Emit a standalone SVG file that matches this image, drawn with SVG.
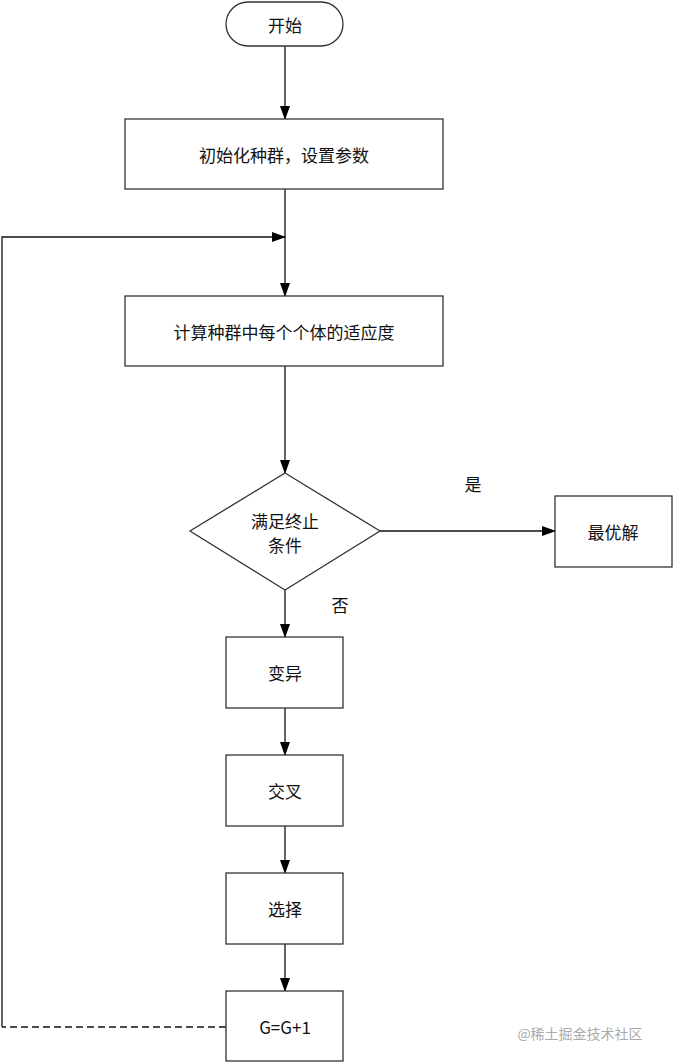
<svg xmlns="http://www.w3.org/2000/svg" width="674" height="1063" viewBox="0 0 674 1063">
<style>
.s{fill:#fff;stroke:#333;stroke-width:1.3}
.l{fill:none;stroke:#111;stroke-width:1.3}
text{font-family:"Noto Sans CJK SC","Liberation Serif",serif;font-size:17px;fill:#111;text-anchor:middle;dominant-baseline:central}
</style>
<defs><marker id="a" markerWidth="14" markerHeight="10" refX="13" refY="5" orient="auto" markerUnits="userSpaceOnUse"><path d="M0,0L14,5L0,10z" fill="#000"/></marker></defs>
<rect width="674" height="1063" fill="#fff"/>
<g id="connectors">
<path class="l" d="M285,46V119" marker-end="url(#a)"/>
<path class="l" d="M285,189V296" marker-end="url(#a)"/>
<path class="l" d="M285,366V473" marker-end="url(#a)"/>
<path class="l" d="M380,531H555" marker-end="url(#a)"/>
<path class="l" d="M285,590V637" marker-end="url(#a)"/>
<path class="l" d="M285,708V755" marker-end="url(#a)"/>
<path class="l" d="M285,826V873" marker-end="url(#a)"/>
<path class="l" d="M285,944V991" marker-end="url(#a)"/>
<path class="l" d="M226,1027H2" stroke-dasharray="7,4"/>
<path class="l" d="M2,1027V237H285" marker-end="url(#a)"/>
</g>
<g id="start"><rect class="s" x="226" y="2" width="117" height="44" rx="22"/><text x="285" y="24">开始</text></g>
<g id="init"><rect class="s" x="125" y="119" width="318" height="70"/><text x="284" y="154">初始化种群，设置参数</text></g>
<g id="fitness"><rect class="s" x="125" y="296" width="318" height="70"/><text x="284" y="331">计算种群中每个个体的适应度</text></g>
<g id="cond"><path class="s" d="M285,473L380,531L285,590L190,531z"/><text x="285" y="520">满足终止</text><text x="285" y="544">条件</text></g>
<g id="best"><rect class="s" x="555" y="496" width="117" height="71"/><text x="613" y="531">最优解</text></g>
<text x="473" y="483">是</text>
<text x="340" y="604">否</text>
<g id="mutate"><rect class="s" x="226" y="637" width="117" height="71"/><text x="285" y="672">变异</text></g>
<g id="cross"><rect class="s" x="226" y="755" width="117" height="71"/><text x="285" y="790">交叉</text></g>
<g id="select"><rect class="s" x="226" y="873" width="117" height="71"/><text x="285" y="908">选择</text></g>
<g id="inc"><rect class="s" x="226" y="991" width="117" height="70"/><text x="285" y="1026" font-family="Liberation Serif,serif">G=G+1</text></g>
<text x="580" y="1033" style="font-size:14px;fill:#aaa">@稀土掘金技术社区</text>
</svg>
